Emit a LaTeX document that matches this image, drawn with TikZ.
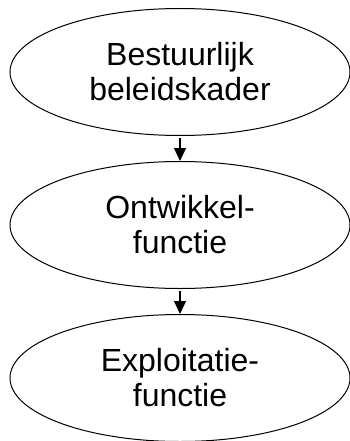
\documentclass[tikz,border=0pt]{standalone}
\usepackage{fontspec}
\setmainfont{Liberation Sans}
\usetikzlibrary{shapes.geometric, arrows.meta}

\begin{document}
\begin{tikzpicture}[x=1pt, y=-1pt,
        phase/.style={ellipse, draw, line width=1pt, inner sep=0pt, minimum width=340pt, minimum height=127pt, align=center, font=\fontsize{32}{35}\selectfont},
        flow/.style={-{Triangle[length=13pt, width=12pt]}, line width=1.2pt, shorten <=2pt}]
                \useasboundingbox (0, 0) rectangle (350, 441);

                \node[phase] (kader) at (180, 72) {Bestuurlijk\\beleidskader};
                \node[phase] (ontw) at (180, 225) {Ontwikkel-\\functie};
                \node[phase] (expl) at (180, 378) {Exploitatie-\\functie};

                \draw[flow] (kader) -- (ontw);
                \draw[flow] (ontw) -- (expl);
            \end{tikzpicture}
\end{document}
